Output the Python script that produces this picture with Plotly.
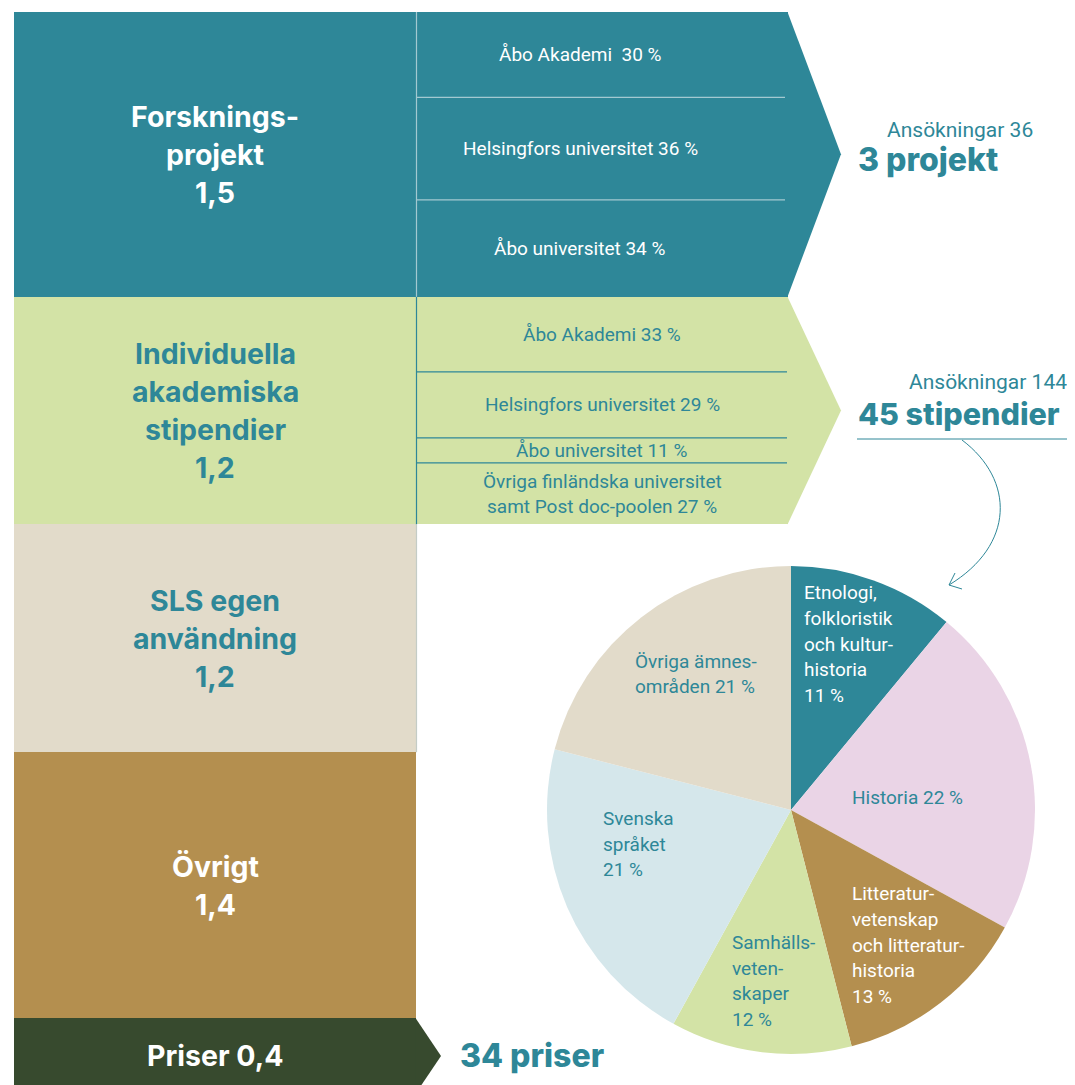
import numpy as np
import plotly.graph_objects as go

# ---- data -------------------------------------------------------------
block_names = ["Forskningsprojekt", "Individuella akademiska stipendier",
               "SLS egen användning", "Övrigt", "Priser"]
block_values = [1.5, 1.2, 1.2, 1.4, 0.4]
block_lines = [["Forsknings-", "projekt", "1,5"],
               ["Individuella", "akademiska", "stipendier", "1,2"],
               ["SLS egen", "användning", "1,2"],
               ["Övrigt", "1,4"],
               ["Priser 0,4"]]

proj_labels = [["Åbo Akademi  30 %"], ["Helsingfors universitet 36 %"], ["Åbo universitet 34 %"]]
proj_shares = [30, 36, 34]

stip_labels = [["Åbo Akademi 33 %"], ["Helsingfors universitet 29 %"], ["Åbo universitet 11 %"],
               ["Övriga finländska universitet", "samt Post doc-poolen 27 %"]]
stip_shares = [33, 29, 11, 27]

pie_names = ["Etnologi, folkloristik och kulturhistoria", "Historia",
             "Litteraturvetenskap och litteraturhistoria", "Samhällsvetenskaper",
             "Svenska språket", "Övriga ämnesområden"]
pie_values = [11, 22, 13, 12, 21, 21]

# ---- style ------------------------------------------------------------
TEAL = "#2e8798"
GREEN = "#d3e3a6"
BEIGE = "#e2dbca"
BROWN = "#b48f4f"
DARK = "#374a2e"
PINK = "#ead4e6"
BLUE = "#d5e7eb"
FONT = "Roboto"
BOLD = "Inter"

block_colors = [TEAL, GREEN, BEIGE, BROWN, DARK]
block_text = ["white", TEAL, TEAL, "white", "white"]
pie_colors = [TEAL, PINK, BROWN, GREEN, BLUE, BEIGE]

# the page puts the figure 8px in from the corner
OX, OY = 8, 8
W, H = 1075 - OX, 1085 - OY
TOP = 12          # pixel where value 0 sits
SCALE = 189.8     # pixels per unit
col_left, col_right = 14, 416
arr_left, arr_right, arr_tip = 417, 788, 841


def py(p):
    return 1 - (p - OY) / H


fig = go.Figure()

bases = np.concatenate([[0], np.cumsum(block_values)[:-1]])
for name, v, b, c in zip(block_names, block_values, bases, block_colors):
    fig.add_trace(go.Bar(x=[(col_left + col_right) / 2], y=[v], base=[b],
                         width=[col_right - col_left], marker=dict(color=c, line=dict(width=0)),
                         name=name, showlegend=False, hoverinfo="skip"))

shapes = []
annotations = []


def text_lines(lines, x, y, size, color, weight=400, spacing=None,
               xanchor="center", yref="y", family=FONT):
    spacing = spacing or size * 1.45
    n = len(lines)
    for i, t in enumerate(lines):
        annotations.append(dict(
            x=x, y=y, xref="x", yref=yref, text=t, showarrow=False,
            xanchor=xanchor, yanchor="middle", yshift=((n - 1) / 2 - i) * spacing,
            font=dict(family=family, size=size, color=color, weight=weight)))


# block labels
for lines, v, b, c in zip(block_lines, block_values, bases, block_text):
    text_lines(lines, (col_left + col_right) / 2, b + v / 2, 28.5, c, 700, spacing=38,
               family=BOLD)


# arrows with sub-segments
def arrow(block_idx, shares, labels, color, txt_color, sep_color, label_x, sep_right):
    b0 = bases[block_idx]
    v = block_values[block_idx]
    cum = np.concatenate([[0], np.cumsum(shares)]) / 100 * v + b0
    for i, s in enumerate(shares):
        fig.add_trace(go.Bar(x=[(arr_left + arr_right) / 2], y=[s / 100 * v], base=[cum[i]],
                             width=[arr_right - arr_left],
                             marker=dict(color=color, line=dict(width=0)),
                             showlegend=False, hoverinfo="skip"))
        text_lines(labels[i], label_x, (cum[i] + cum[i + 1]) / 2, 19, txt_color, 400,
                   spacing=25)
    for c in cum[1:-1]:
        shapes.append(dict(type="line", xref="x", yref="y", x0=arr_left, x1=sep_right,
                           y0=c, y1=c, line=dict(color=sep_color, width=1.2)))
    shapes.append(dict(type="path", xref="x", yref="y", fillcolor=color, line=dict(width=0),
                       path=f"M {arr_right - 0.5} {b0} L {arr_tip} {b0 + v / 2} "
                            f"L {arr_right - 0.5} {b0 + v} Z"))


arrow(0, proj_shares, proj_labels, TEAL, "white", "#a3c9d1", 580, 785)
arrow(1, stip_shares, stip_labels, GREEN, TEAL, TEAL, 602, 787)

# priser chevron
pb, pv = bases[4], block_values[4]
shapes.append(dict(type="path", xref="x", yref="y", fillcolor=DARK, line=dict(width=0),
                   path=f"M {col_right - 0.5} {pb} L 441 {pb + pv / 2} L {col_right - 0.5} {pb + pv} Z"))

# vertical divider between column and arrows
for i, c in enumerate(["#a3c9d1", TEAL, "#c4ccc6"]):
    shapes.append(dict(type="line", xref="x", yref="y", x0=416.5, x1=416.5,
                       y0=bases[i], y1=bases[i] + block_values[i],
                       line=dict(color=c, width=1.2)))

# results text
text_lines(["Ansökningar 36"], 1035, py(130), 21, TEAL, 400, xanchor="right", yref="paper")
text_lines(["3 projekt"], 856, py(160), 32, TEAL, 800, xanchor="left", yref="paper", family=BOLD)
text_lines(["Ansökningar 144"], 1069, py(382), 21, TEAL, 400, xanchor="right", yref="paper")
text_lines(["45 stipendier"], 856, py(413), 30.5, TEAL, 800, xanchor="left", yref="paper",
           family=BOLD)
text_lines(["34 priser"], 458, pb + pv / 2, 32, TEAL, 800, xanchor="left", family=BOLD)

shapes.append(dict(type="line", xref="x", yref="paper", x0=857, x1=1075, y0=py(439), y1=py(439),
                   line=dict(color=TEAL, width=1)))
# curved arrow to pie
shapes.append(dict(type="path", xref="x", yref="paper", line=dict(color=TEAL, width=1),
                   path=f"M 962 {py(440)} C 1015 {py(480)}, 1015 {py(545)}, 949 {py(585)}"))
shapes.append(dict(type="path", xref="x", yref="paper", line=dict(color=TEAL, width=1),
                   path=f"M 955 {py(573)} L 949 {py(585)} L 962 {py(589)}"))

# pie
cx, cy, r = 791, 810, 244
fig.add_trace(go.Pie(values=pie_values, labels=pie_names, sort=False, direction="clockwise",
                     rotation=0, textinfo="none", hoverinfo="label+percent",
                     marker=dict(colors=pie_colors, line=dict(width=0)),
                     domain=dict(x=[(cx - r - OX) / W, (cx + r - OX) / W],
                                 y=[py(cy + r), py(cy - r)]),
                     showlegend=False))

pie_text = [
    (["Etnologi,", "folkloristik", "och kultur-", "historia", "11 %"], 802, 644, "white"),
    (["Historia 22 %"], 850, 797, TEAL),
    (["Litteratur-", "vetenskap", "och litteratur-", "historia", "13 %"], 850, 945, "white"),
    (["Samhälls-", "veten-", "skaper", "12 %"], 730, 981, TEAL),
    (["Svenska", "språket", "21 %"], 601, 844, TEAL),
    (["Övriga ämnes-", "områden 21 %"], 633, 674, TEAL),
]
for lines, x, y, c in pie_text:
    text_lines(lines, x, py(y), 19, c, 400, spacing=25.8, xanchor="left", yref="paper")

fig.update_layout(
    width=W, height=H, margin=dict(l=0, r=0, t=0, b=0),
    paper_bgcolor="white", plot_bgcolor="white", barmode="overlay", bargap=0,
    xaxis=dict(range=[OX, OX + W], visible=False, fixedrange=True),
    yaxis=dict(range=[(OY + H - TOP) / SCALE, (OY - TOP) / SCALE], visible=False,
               fixedrange=True),
    shapes=shapes, annotations=annotations,
)

fig.write_html("out.html")
